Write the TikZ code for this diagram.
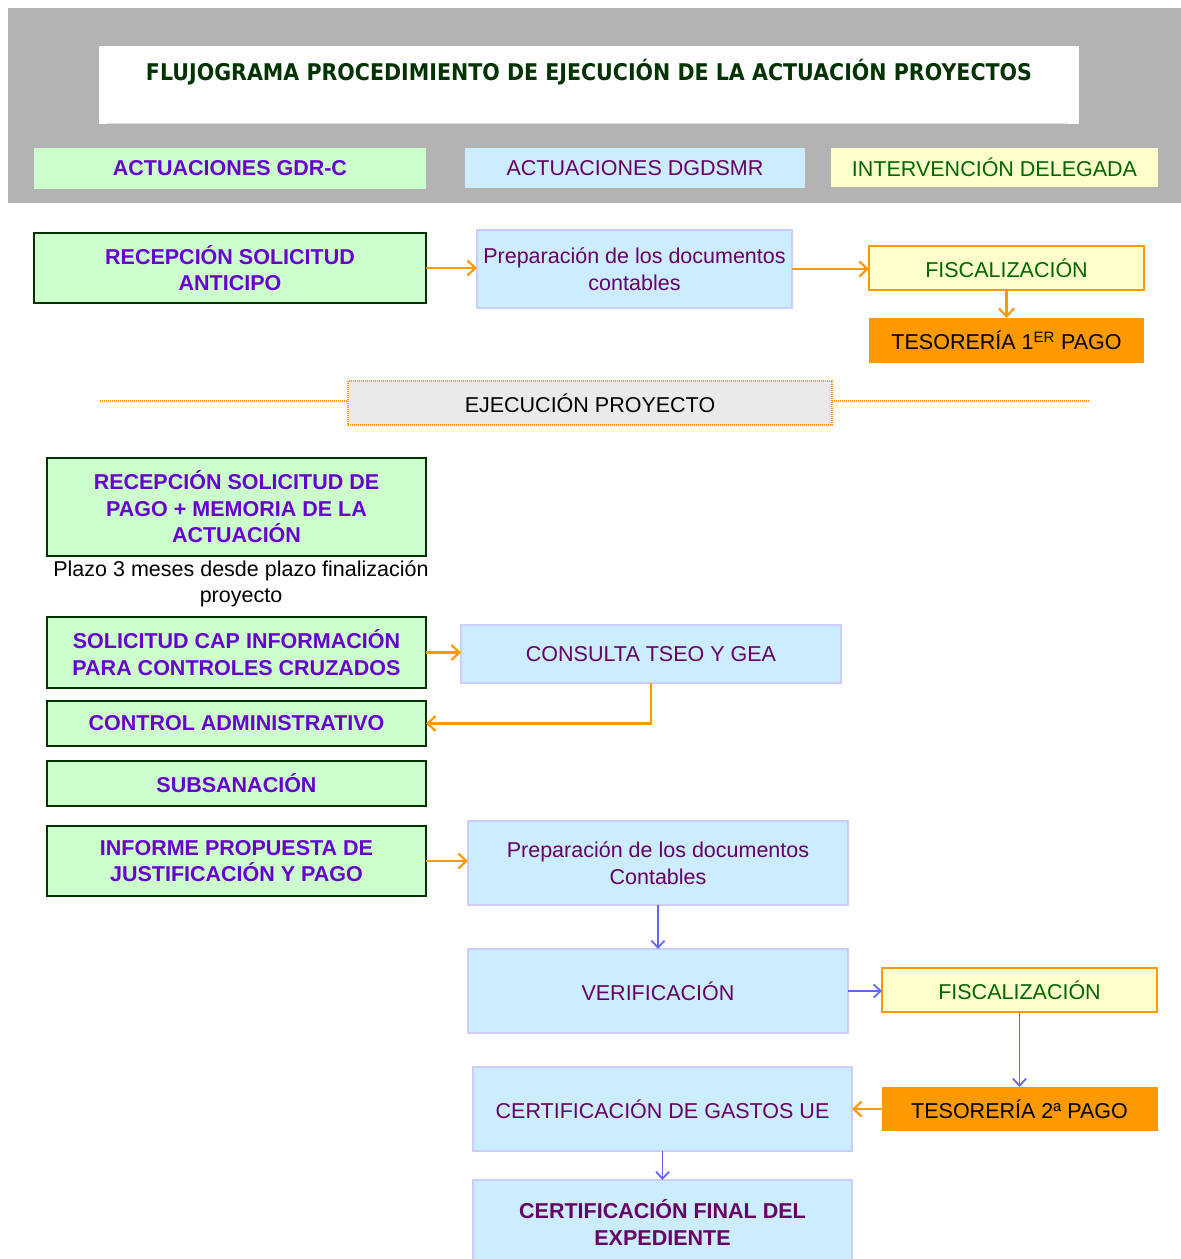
\documentclass[tikz,border=0pt]{standalone}
\usepackage{graphicx}
\usepackage{fontspec}
\setmainfont{Liberation Sans}
\newfontfamily\titlefont{DejaVu Sans}
\usetikzlibrary{arrows.meta}

\definecolor{hdrgray}{HTML}{B3B3B3}
\definecolor{gfill}{HTML}{CCFFCC}
\definecolor{gline}{HTML}{003300}
\definecolor{gtext}{HTML}{6600CC}
\definecolor{bfill}{HTML}{CCECFF}
\definecolor{bline}{HTML}{CCCCFF}
\definecolor{btext}{HTML}{660066}
\definecolor{yfill}{HTML}{FFFFCC}
\definecolor{ytext}{HTML}{006600}
\definecolor{oran}{HTML}{FF9900}
\definecolor{blarrow}{HTML}{6666FF}
\definecolor{ejfill}{HTML}{EAEAEA}
\definecolor{ttext}{HTML}{003300}

\tikzset{
  base/.style={inner sep=0pt, outer sep=0pt, align=center,
    font=\fontsize{21.5}{26.5}\selectfont},
  gbox/.style={base, fill=gfill, draw=gline, line width=2pt, text=gtext,
    font=\fontsize{21.5}{26.5}\selectfont\bfseries},
  bbox/.style={base, fill=bfill, draw=bline, line width=2pt, text=btext},
  ybox/.style={base, fill=yfill, draw=oran, line width=2pt, text=ytext},
  obox/.style={base, fill=oran, text=black},
  oarrow/.style={draw=oran, line width=2.2pt,
    -{Straight Barb[length=8pt,width=15pt,line join=miter]}},
  barrow/.style={draw=blarrow, line width=1.8pt,
    -{Straight Barb[length=7pt,width=13pt,line join=miter]}},
  dotline/.style={draw=oran, line width=1.5pt, dash pattern=on 1.2pt off 0.8pt},
}

\begin{document}
\begin{tikzpicture}[x=1pt,y=-1pt]
\useasboundingbox (0,0) rectangle (1181,1259);
\clip (0,0) rectangle (1181,1259);

% header band
\fill[hdrgray] (8,8) rectangle (1181,203);
\fill[white] (99,46) rectangle (1079,124);
\draw[black!12, line width=1.2pt] (107,123.5) -- (1068,123.5);
\node[anchor=base, inner sep=0pt, text=ttext] (title) at (589,80)
  {\resizebox{886pt}{\height}{\titlefont\fontsize{23}{23}\selectfont\bfseries
   FLUJOGRAMA PROCEDIMIENTO DE EJECUCIÓN DE LA ACTUACIÓN PROYECTOS}};

\node[base, fill=gfill, text=gtext, font=\fontsize{21.5}{26.5}\selectfont\bfseries,
  minimum width=392pt, minimum height=41pt] (gdr) at (230,168.5) {ACTUACIONES GDR-C};
\node[base, fill=bfill, text=btext, minimum width=340pt, minimum height=40pt]
  (dgd) at (635,168) {ACTUACIONES DGDSMR};
\node[base, fill=yfill, text=ytext, minimum width=327pt, minimum height=39pt]
  (intv) at (994.5,167.5) {INTERVENCIÓN DELEGADA};

% advance payment
\node[gbox, minimum width=392pt, minimum height=70pt] (rsa) at (230,268)
  {RECEPCIÓN SOLICITUD\\ANTICIPO};
\node[bbox, minimum width=315pt, minimum height=78pt] (prep1) at (634.5,269)
  {Preparación de los documentos\\contables};
\node[ybox, minimum width=275pt, minimum height=44pt] (fisc1) at (1006.5,268)
  {FISCALIZACIÓN};
\node[obox, minimum width=275pt, minimum height=45pt] (tes1) at (1006.5,340.5)
  {TESORERÍA 1\textsuperscript{ER} PAGO};

\draw[oarrow] (rsa.east) -- (rsa.east -| prep1.west);
\draw[oarrow] (prep1.east) -- (prep1.east -| fisc1.west);
\draw[oarrow] (fisc1.south) -- (tes1.north);

% project execution divider
\node[base, fill=ejfill, text=black, minimum width=484pt, minimum height=44pt]
  (ejec) at (590,403) {EJECUCIÓN PROYECTO};
\draw[dotline] (ejec.north west) rectangle (ejec.south east);
\coordinate (dl) at (100,401);
\coordinate (dr) at (1090,401);
\draw[dotline] (dl) -- (dl -| ejec.west);
\draw[dotline] (dr -| ejec.east) -- (dr);

% payment request
\node[gbox, minimum width=379pt, minimum height=98pt] (rsp) at (236.5,507)
  {RECEPCIÓN SOLICITUD DE\\PAGO + MEMORIA DE LA\\ACTUACIÓN};
\node[base, text=black] (plazo) at (241,584)
  {Plazo 3 meses desde plazo finalización\\proyecto};

\node[gbox, minimum width=379pt, minimum height=71pt] (scap) at (236.5,652.5)
  {SOLICITUD CAP INFORMACIÓN\\PARA CONTROLES CRUZADOS};
\node[bbox, minimum width=380pt, minimum height=58pt] (cons) at (651,654)
  {CONSULTA TSEO Y GEA};
\node[gbox, minimum width=379pt, minimum height=45pt] (cadm) at (236.5,723.5)
  {CONTROL ADMINISTRATIVO};
\node[gbox, minimum width=379pt, minimum height=45pt] (subs) at (236.5,783.5)
  {SUBSANACIÓN};
\node[gbox, minimum width=379pt, minimum height=70pt] (inf) at (236.5,861)
  {INFORME PROPUESTA DE\\JUSTIFICACIÓN Y PAGO};

\draw[oarrow] (scap.east) -- (scap.east -| cons.west);
\draw[oarrow] (cons.south) |- (cadm.east);

% second payment chain
\node[bbox, minimum width=380pt, minimum height=84pt] (prep2) at (658,863)
  {Preparación de los documentos\\Contables};
\node[bbox, minimum width=380pt, minimum height=84pt] (verif) at (658,991)
  {VERIFICACIÓN};
\node[ybox, minimum width=275pt, minimum height=44pt] (fisc2) at (1019.5,990)
  {FISCALIZACIÓN};
\node[obox, minimum width=276pt, minimum height=44pt] (tes2) at (1019.5,1109)
  {TESORERÍA 2ª PAGO};
\node[bbox, minimum width=379pt, minimum height=84pt] (certg) at (662.5,1109)
  {CERTIFICACIÓN DE GASTOS UE};
\node[bbox, font=\fontsize{21.5}{27}\selectfont\bfseries,
  minimum width=379pt, minimum height=84pt] (certf) at (662.5,1222)
  {CERTIFICACIÓN FINAL DEL\\EXPEDIENTE};

\draw[oarrow] (inf.east) -- (inf.east -| prep2.west);
\draw[barrow] (prep2.south) -- (verif.north);
\draw[barrow] (verif.east) -- (verif.east -| fisc2.west);
\draw[barrow] (fisc2.south) -- (tes2.north);
\draw[oarrow] (tes2.west) -- (certg.east);
\draw[barrow] (certg.south) -- (certf.north);
\end{tikzpicture}
\end{document}
